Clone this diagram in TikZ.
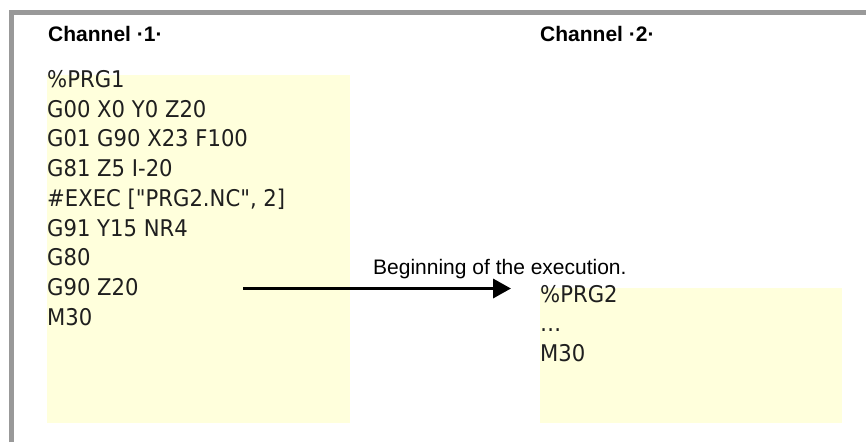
\documentclass[tikz,border=0pt]{standalone}
\usepackage{fontspec}
\setmainfont{Liberation Sans}
\newfontfamily\codefont[FakeStretch=0.92]{DejaVu Sans}
\usetikzlibrary{arrows.meta}
\definecolor{boxyellow}{RGB}{255,255,220}
\definecolor{framegray}{RGB}{153,153,153}
\begin{document}
\begin{tikzpicture}[x=1pt,y=-1pt,
  codeline/.style={anchor=base west,inner sep=0pt,text=black!88,font=\codefont\fontsize{23}{27}\selectfont},
  heading/.style={anchor=base west,inner sep=0pt,font=\bfseries\fontsize{21}{25}\selectfont},
  label/.style={anchor=base west,inner sep=0pt,font=\fontsize{21}{25}\selectfont},
  codebox/.style={fill=boxyellow,draw=none},
  frameline/.style={draw=framegray,line width=5pt},
  flow/.style={draw=black,line width=3.5pt,-{Triangle[length=18pt,width=19pt]}}]
\useasboundingbox (0,0) rectangle (866,442);
\fill[white] (0,0) rectangle (866,442);
% frame
\draw[frameline] (11.5,442) -- (11.5,12.5) -- (866,12.5);
% boxes
\path[codebox] (47,75) rectangle (350,423);
\path[codebox] (540,288) rectangle (842,423);
% headings
\node[heading] (h1) at (48,41) {Channel ·1·};
\node[heading] (h2) at (540,41) {Channel ·2·};
% channel 1 code
\node[codeline] (a1) at (47,87.5) {\%PRG1};
\node[codeline] (a2) at (47,117.2) {G00 X0 Y0 Z20};
\node[codeline] (a3) at (47,146.9) {G01 G90 X23 F100};
\node[codeline] (a4) at (47,176.6) {G81 Z5 I-20};
\node[codeline] (a5) at (47,206.3) {\#EXEC ["PRG2.NC", 2]};
\node[codeline] (a6) at (47,236) {G91 Y15 NR4};
\node[codeline] (a7) at (47,265.7) {G80};
\node[codeline] (a8) at (47,295.4) {G90 Z20};
\node[codeline] (a9) at (47,325.1) {M30};
% channel 2 code
\node[codeline] (b1) at (540,302) {\%PRG2};
\node[codeline] (b2) at (540,331.5) {…};
\node[codeline] (b3) at (540,361) {M30};
% arrow
\node[label] (lbl) at (373,274) {Beginning of the execution.};
\coordinate (as) at (243,288.5);
\coordinate (ae) at (511,288.5);
\draw[flow] (as) -- (ae);
\end{tikzpicture}
\end{document}
